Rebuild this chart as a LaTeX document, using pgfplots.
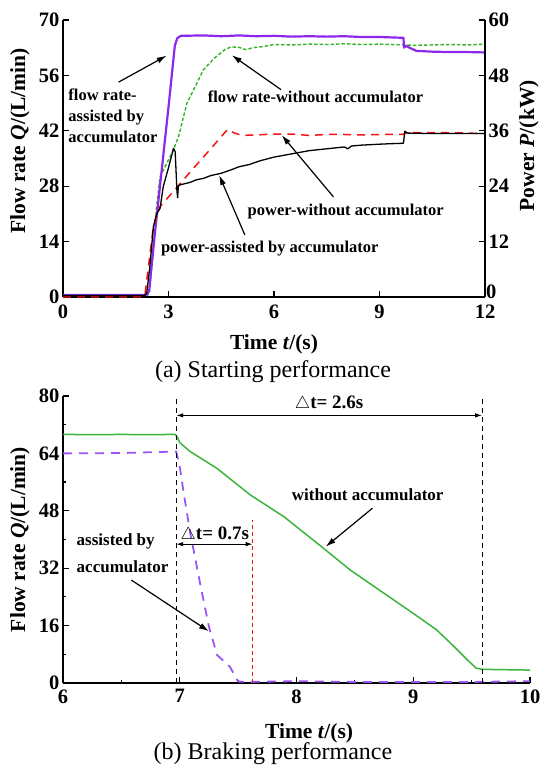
\documentclass[border=0pt]{standalone}
\usepackage{fontspec}
\setmainfont{Liberation Serif}
\usepackage{pgfplots}
\pgfplotsset{compat=1.18}
\usetikzlibrary{arrows.meta}

\definecolor{violetA}{RGB}{140,40,235}
\definecolor{violetB}{RGB}{155,85,245}
\definecolor{greenA}{RGB}{50,180,40}
\definecolor{greenB}{RGB}{60,180,60}
\definecolor{redA}{RGB}{245,20,20}

\newcommand{\tickfont}{\fontsize{20.5}{22}\selectfont\bfseries}
\newcommand{\labfont}{\fontsize{21.5}{24}\selectfont\bfseries}
\newcommand{\annfont}{\fontsize{16.5}{20.6}\selectfont\bfseries}
\newcommand{\annfontb}{\fontsize{17}{27}\selectfont\bfseries}

\tikzset{
  arr/.style={-{Latex[length=10pt,width=6pt]}, line width=1.2pt},
  dim/.style={{Latex[length=7pt,width=4.5pt]}-{Latex[length=7pt,width=4.5pt]}, line width=1pt},
}

\pgfplotsset{
  base/.style={
    scale only axis,
    anchor=south west,
    clip=false,
    axis line style={line width=1.6pt},
    tick style={line width=1.2pt, black},
    major tick length=6pt,
    minor tick length=3pt,
    tick align=inside,
    tick label style={font=\tickfont},
    /pgf/number format/assume math mode=true,
    label style={font=\labfont},
  },
}

\begin{document}
\begin{tikzpicture}
\path[use as bounding box] (0,0) rectangle (542pt,766pt);

% (a) starting performance, flow rate on the left axis
\begin{axis}[base,
    at={(63pt,469pt)}, width=422pt, height=277pt,
    xmin=0, xmax=12, ymin=0, ymax=70,
    xtick={0,3,...,12}, ytick={0,14,...,70},
    axis x line*=bottom, axis y line*=left,
    xticklabel style={yshift=-4pt},
    xlabel={Time \textit{t}/(s)},
    ylabel={Flow rate \textit{Q}/(L/min)},
    x label style={at={(axis description cs:0.5,0)}, anchor=base, yshift=-53pt},
    y label style={at={(axis description cs:0,0.563)}, anchor=center, yshift=43pt},
]
% flow rate - without accumulator
\addplot[greenA, line width=1.4pt, dash pattern=on 3.5pt off 2pt] coordinates {
(0,0.5) (2.4,0.5) (2.45,1.0) (2.55,10) (2.66,22.8) (2.76,30.4) (2.95,33.8)
(3.14,37.1) (3.3,41) (3.52,48.9) (3.75,53) (3.99,57.4) (4.3,60.3) (4.6,62.5)
(4.78,63.2) (5.0,63.1) (5.2,62.5) (5.4,63.0) (5.7,63.3) (6.0,63.8) (6.5,63.7)
(7,63.9) (7.5,63.8) (8,64.0) (8.5,63.8) (9,63.9) (9.7,63.7) (10,63.6)
(10.5,63.7) (11,63.8) (11.5,63.7) (12,63.9)};
% flow rate - assisted by accumulator
\addplot[violetA, line width=2.2pt, line join=round] coordinates {
(0,0.5) (2.38,0.5) (2.45,1.5) (2.6,15) (2.8,31.5) (3.0,48) (3.18,63.5)
(3.25,65.4) (3.35,66.0) (4,66.1) (4.5,65.9) (5,66.1) (5.5,65.9) (6,66.0)
(6.5,65.8) (7,65.9) (7.5,65.8) (8,65.9) (8.5,65.7) (9,65.7) (9.68,65.5)
(9.70,63.0) (9.75,63.5) (9.85,63.0) (10.05,62.2) (10.5,62.0) (11,61.9)
(11.5,61.9) (12,61.8)};

\node[anchor=west, align=left, font=\annfont, inner sep=0] at (axis cs:0.15,45.8)
  {flow rate-\\assisted by\\accumulator};
\node[font=\annfont, inner sep=0] at (axis cs:7.18,50.6) {flow rate-without accumulator};
\node[font=\annfont, inner sep=0] at (axis cs:8.04,21.7) {power-without accumulator};
\node[font=\annfont, inner sep=0] at (axis cs:5.88,12.2) {power-assisted by accumulator};
\draw[arr] (axis cs:1.58,54.3) -- (axis cs:2.95,61.0);
\draw[arr] (axis cs:6.2,52.4) -- (axis cs:4.80,61.1);
\draw[arr] (axis cs:7.69,25.3) -- (axis cs:6.22,40.9);
\draw[arr] (axis cs:5.17,15.7) -- (axis cs:4.44,30.8);
\end{axis}

% (a) power on the right axis
\begin{axis}[base,
    at={(63pt,469pt)}, width=422pt, height=277pt,
    xmin=0, xmax=12, ymin=0, ymax=60,
    ytick={12,24,...,60},
    extra y ticks={0},
    extra y tick style={yticklabel style={yshift=5pt, inner sep=1pt}},
    axis x line=none, axis y line*=right,
    ylabel={Power \textit{P}/(kW)},
    y label style={at={(axis description cs:1,0.546)}, anchor=center, yshift=-44pt},
]
% power - without accumulator
\addplot[redA, line width=1.5pt, dash pattern=on 8pt off 6pt] coordinates {
(0,0) (2.25,0) (2.33,0.5) (2.43,6.6) (2.57,15.2) (2.76,19.6) (3.2,23.4)
(3.7,27.8) (4.2,32.1) (4.68,36.3) (4.85,35.6) (5.08,35.0) (5.5,35.1)
(6,35.3) (6.5,35.3) (7,35.0) (7.5,35.2) (8,35.2) (8.5,35.1) (9,35.2)
(9.65,35.2) (9.8,35.6) (10,35.6) (11,35.6) (12,35.4)};
% power - assisted by accumulator
\addplot[black, line width=1.3pt, line join=round] coordinates {
(0,0.3) (2.3,0.3) (2.38,0.8) (2.47,6.6) (2.57,15.2) (2.64,17.4) (2.7,18.5)
(2.76,19.2) (2.85,23.9) (3.0,28.0) (3.14,32.2) (3.19,31.5) (3.24,23.0)
(3.26,21.5) (3.28,24.0) (3.33,24.3) (3.6,24.8) (3.8,25.4) (4.0,25.7)
(4.2,26.3) (4.5,26.8) (4.8,27.6) (5.0,28.2) (5.3,28.7) (5.6,29.5) (6.0,30.3)
(6.5,31.0) (7.0,31.7) (7.5,32.1) (8.0,32.5) (8.1,32.1) (8.2,32.7) (8.5,32.9)
(9.0,33.1) (9.3,33.2) (9.68,33.3) (9.72,35.9) (9.8,35.5) (10.5,35.4)
(11,35.4) (12,35.4)};
\end{axis}

\node[font=\fontsize{24}{26}\selectfont, anchor=base] at (273pt,388pt) {(a) Starting performance};

% (b) braking performance
\begin{axis}[base,
    at={(63pt,83pt)}, width=467pt, height=287pt,
    xmin=6, xmax=10, ymin=0, ymax=80,
    xtick={6,...,10}, ytick={0,16,...,80},
    minor x tick num=1, minor y tick num=1,
    axis x line*=bottom, axis y line*=left,
    xticklabel style={yshift=-3pt},
    xlabel={Time \textit{t}/(s)},
    ylabel={Flow rate \textit{Q}/(L/min)},
    x label style={at={(axis description cs:0.527,0)}, anchor=base, yshift=-55pt},
    y label style={at={(axis description cs:0,0.5)}, anchor=center, yshift=43pt},
]
% without accumulator
\addplot[greenB, line width=1.5pt, line join=round] coordinates {
(6,69.3) (6.3,69.2) (6.5,69.3) (6.7,69.2) (6.96,69.3) (6.98,68.5) (7.0,67.0)
(7.09,64.5) (7.32,59.8) (7.605,52.4) (7.89,46.4) (8.18,38.9) (8.46,31.5)
(8.75,25.0) (9.04,18.5) (9.2,14.8) (9.32,11.1) (9.465,6.4) (9.54,4.1)
(9.6,3.8) (9.8,3.7) (10,3.6)};
% assisted by accumulator
\addplot[violetB, line width=1.8pt, dash pattern=on 9pt off 7pt] coordinates {
(6,64.0) (6.5,64.1) (6.95,64.5) (6.97,64.5) (7.00,60.3) (7.03,53.8)
(7.09,41.7) (7.13,35.2) (7.18,26.8) (7.25,15.7) (7.32,7.8) (7.43,4.5)
(7.50,0.4) (7.6,0.3) (8,0.5) (8.5,0.3) (9,0.3) (9.5,0.3) (10,0.5)};
% time marks
\addplot[black, line width=0.9pt, dash pattern=on 5pt off 4pt] coordinates {(6.97,0) (6.97,80)};
\addplot[black, line width=0.9pt, dash pattern=on 5pt off 4pt] coordinates {(9.59,0) (9.59,80)};
\addplot[redA, line width=1.2pt, dash pattern=on 4pt off 3pt] coordinates {(7.625,0) (7.625,45.4)};

\draw[dim] (axis cs:6.97,74.6) -- (axis cs:9.59,74.6);
\draw[dim] (axis cs:6.97,38.7) -- (axis cs:7.625,38.7);
\node[font=\fontsize{19}{21}\selectfont\bfseries, inner sep=0] at (axis cs:8.28,77.9) {$\triangle$t= 2.6s};
\node[font=\fontsize{19}{21}\selectfont\bfseries, inner sep=0] at (axis cs:7.30,41.3) {$\triangle$t= 0.7s};
\node[font=\annfontb, inner sep=0] at (axis cs:8.61,52.4) {without accumulator};
\node[anchor=west, align=left, font=\annfontb, inner sep=0] at (axis cs:6.116,36.1)
  {assisted by\\accumulator};
\draw[arr] (axis cs:8.65,48.7) -- (axis cs:8.25,38.0);
\draw[arr] (axis cs:6.585,28.7) -- (axis cs:7.25,14.4);
\end{axis}

\node[font=\fontsize{24}{26}\selectfont, anchor=base] at (273pt,6pt) {(b) Braking performance};
\end{tikzpicture}
\end{document}
